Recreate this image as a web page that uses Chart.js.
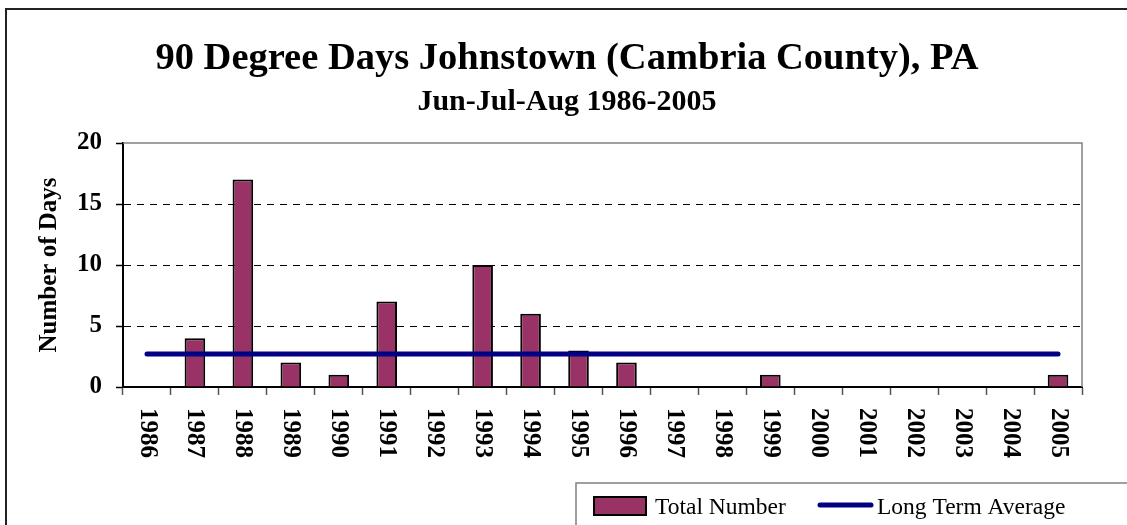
<!DOCTYPE html>
<html>
<head>
<meta charset="utf-8">
<title>90 Degree Days Johnstown</title>
<script src="https://cdn.jsdelivr.net/npm/chart.js@4.4.0/dist/chart.umd.min.js"></script>
<style>
  html, body { margin: 0; padding: 0; background: #fff; }
  #wrap { position: relative; width: 1127px; height: 525px; }
</style>
</head>
<body>
<div id="wrap"><canvas id="daysChart"></canvas></div>
<script>
const titleText = '90 Degree Days Johnstown (Cambria County), PA';
const subtitleText = 'Jun-Jul-Aug 1986-2005';
const yAxisTitle = 'Number of Days';

const years = ['1986', '1987', '1988', '1989', '1990', '1991', '1992', '1993', '1994', '1995',
  '1996', '1997', '1998', '1999', '2000', '2001', '2002', '2003', '2004', '2005'];
const totalDays = [0, 4, 17, 2, 1, 7, 0, 10, 6, 3, 2, 0, 0, 1, 0, 0, 0, 0, 0, 1];
const averageDays = [2.7, 2.7, 2.7, 2.7, 2.7, 2.7, 2.7, 2.7, 2.7, 2.7,
  2.7, 2.7, 2.7, 2.7, 2.7, 2.7, 2.7, 2.7, 2.7, 2.7];
const yTicks = [0, 5, 10, 15, 20];

const serif = "'Liberation Serif', 'Times New Roman', serif";
const barColor = '#993366';
const lineColor = '#000080';

/** Plugins */
const backdrop = {
  id: 'backdrop',
  beforeDraw(chart) {
    const ctx = chart.ctx;
    ctx.save();
    ctx.fillStyle = '#fff';
    ctx.fillRect(0, 0, chart.width, chart.height);
    // outer frame (only left and top are inside the picture)
    ctx.strokeStyle = '#222';
    ctx.lineWidth = 2;
    ctx.beginPath();
    ctx.moveTo(6, chart.height + 2);
    ctx.lineTo(6, 9);
    ctx.lineTo(chart.width + 2, 9);
    ctx.stroke();

    ctx.fillStyle = '#000';
    ctx.textAlign = 'center';
    ctx.textBaseline = 'alphabetic';
    ctx.font = 'bold 38.5px ' + serif;
    ctx.fillText(titleText, 567, 69);
    ctx.font = 'bold 30px ' + serif;
    ctx.fillText(subtitleText, 567, 110);
    ctx.restore();
  },
  afterDraw(chart) {
    const ctx = chart.ctx;
    const area = chart.chartArea;
    const xs = chart.scales.x;
    ctx.save();

    // plot border, top and right
    ctx.strokeStyle = '#808080';
    ctx.lineWidth = 1.5;
    ctx.beginPath();
    ctx.moveTo(area.left, area.top);
    ctx.lineTo(area.right, area.top);
    ctx.lineTo(area.right, area.bottom);
    ctx.stroke();

    // year labels, turned clockwise
    ctx.font = 'bold 25px ' + serif;
    ctx.fillStyle = '#000';
    ctx.textAlign = 'left';
    ctx.textBaseline = 'middle';
    chart.data.labels.forEach((lab, i) => {
      ctx.save();
      ctx.translate(xs.getPixelForValue(i), xs.top + 21);
      ctx.rotate(Math.PI / 2);
      ctx.fillText(lab, 0, 0);
      ctx.restore();
    });

    // legend
    const bars = chart.data.datasets[0];
    const avg = chart.data.datasets[1];
    ctx.strokeStyle = '#808080';
    ctx.lineWidth = 1.5;
    ctx.strokeRect(576, 483, 620, 60);

    ctx.fillStyle = bars.backgroundColor;
    ctx.fillRect(594, 497, 52, 18);
    ctx.strokeStyle = '#000';
    ctx.lineWidth = 2;
    ctx.strokeRect(594, 497, 52, 18);

    ctx.strokeStyle = avg.borderColor;
    ctx.lineWidth = 5;
    ctx.lineCap = 'round';
    ctx.beginPath();
    ctx.moveTo(820, 505);
    ctx.lineTo(871, 505);
    ctx.stroke();

    ctx.fillStyle = '#000';
    ctx.font = '23.5px ' + serif;
    ctx.textAlign = 'left';
    ctx.textBaseline = 'alphabetic';
    ctx.fillText(bars.label, 655, 514);
    ctx.fillText(avg.label, 877, 514);
    ctx.restore();
  },
};

/** Chart */
const chart = new Chart(document.getElementById('daysChart'), {
  type: 'bar',
  data: {
    labels: years,
    datasets: [{
      label: 'Total Number',
      data: totalDays,
      backgroundColor: barColor,
      borderColor: '#000',
      borderWidth: 2,
      barPercentage: 0.43,
      categoryPercentage: 1,
      order: 2,
    },
    {
      type: 'line',
      label: 'Long Term Average',
      data: averageDays,
      borderColor: lineColor,
      backgroundColor: lineColor,
      borderWidth: 5,
      borderCapStyle: 'round',
      pointRadius: 0,
      fill: false,
      tension: 0,
      order: 1,
    }],
  },
  options: {
    responsive: true,
    maintainAspectRatio: false,
    animation: false,
    events: [],
    layout: { padding: { top: 143, right: 45, left: 0, bottom: 0 } },
    plugins: {
      legend: { display: false },
      title: { display: false },
      tooltip: { enabled: false },
    },
    scales: {
      x: {
        grid: {
          offset: true,
          drawOnChartArea: false,
          drawTicks: true,
          tickLength: 8,
          tickColor: '#555',
          tickWidth: 1.5,
        },
        border: { display: true, color: '#000', width: 2 },
        ticks: { display: false },
        afterFit(scale) { scale.height = 138; },
      },
      y: {
        min: yTicks[0],
        max: yTicks[yTicks.length - 1],
        ticks: {
          stepSize: yTicks[1] - yTicks[0],
          color: '#000',
          padding: 14,
          font: { family: serif, size: 25, weight: 'bold' },
        },
        grid: {
          color: (c) => (c.tick && c.tick.value === yTicks[yTicks.length - 1] ? 'rgba(0,0,0,0)' : '#000'),
          lineWidth: 1,
          tickLength: 7,
          tickColor: '#000',
          tickWidth: 1.5,
        },
        border: { display: true, color: '#000', width: 2, dash: [7, 6] },
        title: {
          display: true,
          text: yAxisTitle,
          color: '#000',
          font: { family: serif, size: 25, weight: 'bold' },
          padding: { top: 35, bottom: 0 },
        },
        afterFit(scale) { scale.width = 123; },
      },
    },
  },
  plugins: [backdrop],
});
</script>
</body>
</html>
